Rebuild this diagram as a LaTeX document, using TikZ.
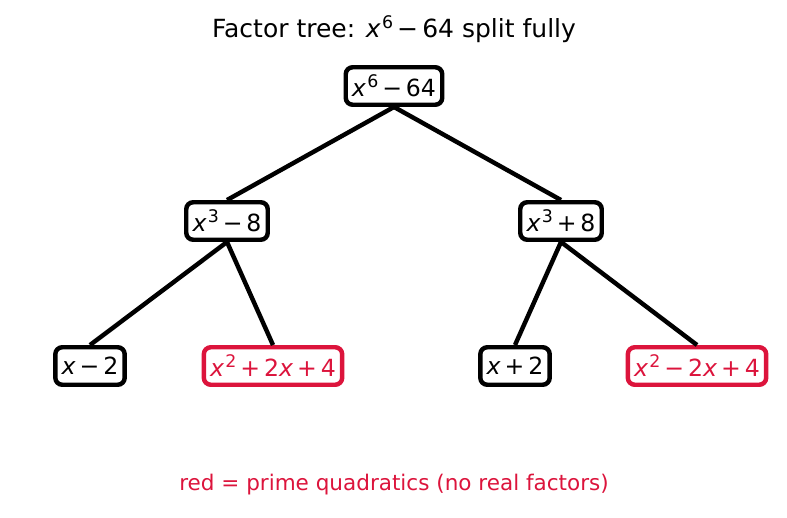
\documentclass[tikz,border=0pt]{standalone}
\usepackage{fontspec}
\setmainfont{DejaVu Sans}
\definecolor{primered}{HTML}{DC143C}
\newcommand{\xx}{\textit{x}\,}
\newcommand{\mi}{\,−\,}
\newcommand{\pl}{\,+\,}
\newcommand{\pw}[1]{\kern-0.12em\raisebox{0.7ex}{\fontsize{12.5}{12.5}\selectfont #1}}
\tikzset{
	factor/.style={draw, line width=3.2pt, rounded corners=5pt, fill=white, inner xsep=4.5pt, minimum height=27pt, font=\fontsize{17}{19}\selectfont},
	prime/.style={factor, draw=primered, text=primered},
	branch/.style={line width=3.2pt}
}

\begin{document}
\begin{tikzpicture}[x=0.72pt, y=-0.72pt]
		\useasboundingbox (0,0) rectangle (787,517);
		\node[font=\fontsize{18}{20}\selectfont] (title) at (394,29) {Factor tree: \xx\pw{6}\mi64 split fully};
		%Depth 0
		\node[factor] (root) at (394,86) {\xx\pw{6}\mi64};
		%Depth 1
		\node[factor] (cubeminus) at (227,221) {\xx\pw{3}\mi8};
		\node[factor] (cubeplus) at (561,221) {\xx\pw{3}\pl8};
		\draw[branch] (root.south) -- (cubeminus.north);
		\draw[branch] (root.south) -- (cubeplus.north);
		%Depth 2
		\node[factor] (linminus) at (90,366) {\textit{x}\mi2};
		\node[prime] (quadplus) at (273,366) {\xx\pw{2}\pl2\textit{x}\pl4};
		\node[factor] (linplus) at (515,366) {\textit{x}\pl2};
		\node[prime] (quadminus) at (697,366) {\xx\pw{2}\mi2\textit{x}\pl4};
		\draw[branch] (cubeminus.south) -- (linminus.north);
		\draw[branch] (cubeminus.south) -- (quadplus.north);
		\draw[branch] (cubeplus.south) -- (linplus.north);
		\draw[branch] (cubeplus.south) -- (quadminus.north);
		%Legend
		\node[text=primered, font=\fontsize{15.5}{17}\selectfont] (note) at (394,485) {red = prime quadratics (no real factors)};
\end{tikzpicture}
\end{document}
